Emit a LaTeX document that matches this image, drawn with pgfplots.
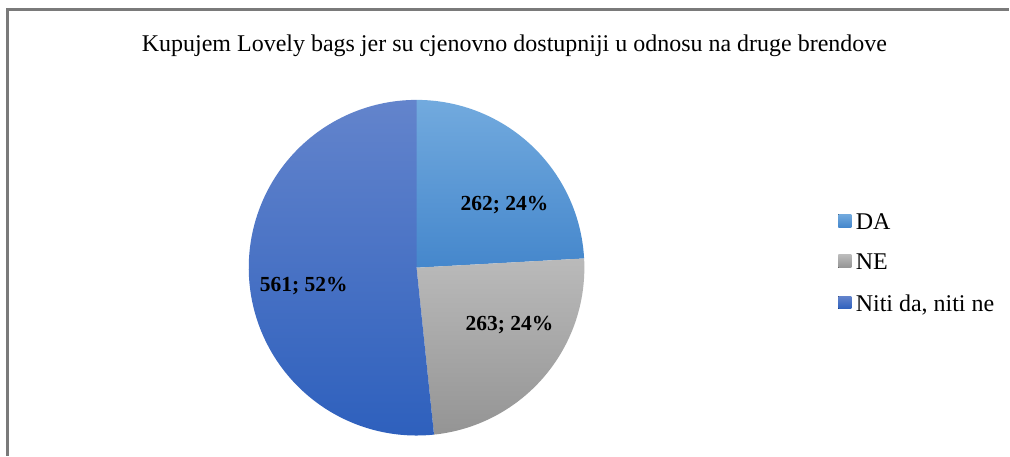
\documentclass[border=0pt]{standalone}
\usepackage{pgfplots}
\usepackage{pgfplotstable}
\usepackage{fontspec}
\setmainfont{Liberation Serif}
\pgfplotsset{compat=1.18}

\definecolor{daTop}{HTML}{72AADE}
\definecolor{daBot}{HTML}{4587CC}
\definecolor{neTop}{HTML}{BABABA}
\definecolor{neBot}{HTML}{949494}
\definecolor{niTop}{HTML}{6384CC}
\definecolor{niBot}{HTML}{2E60BD}
\definecolor{frame}{HTML}{7A7A7A}

% answers
\pgfplotstableread{
label value
DA 262
NE 263
Niti 561
}\piedata

\pgfplotstablegetelem{0}{value}\of\piedata \let\vda\pgfplotsretval
\pgfplotstablegetelem{1}{value}\of\piedata \let\vne\pgfplotsretval
\pgfplotstablegetelem{2}{value}\of\piedata \let\vni\pgfplotsretval
\pgfmathsetmacro\total{\vda+\vne+\vni}
\pgfmathsetmacro\aA{90}
\pgfmathsetmacro\aB{90-360*(\vda/\total)}
\pgfmathsetmacro\aC{\aB-360*(\vne/\total)}
\pgfmathsetmacro\aD{\aC-360*(\vni/\total)}

\def\cx{417}\def\cy{188}\def\rr{168}

\begin{document}
\begin{tikzpicture}
\begin{axis}[
  width=1010pt, height=456pt, scale only axis,
  xmin=0, xmax=1010, ymin=0, ymax=456,
  axis lines=none, ticks=none, clip=false,
  legend cell align=left,
  legend style={draw=none, fill=none, at={(axis cs:836,246)}, anchor=north west,
    font=\fontsize{24}{28}\selectfont, row sep=20.5pt,
    nodes={inner sep=1.5pt}},
  legend image code/.code={\fill[#1] (0pt,-5pt) rectangle (13pt,8pt); \path (16pt,0pt);},
]
  \fill[white] (axis cs:0,0) rectangle (axis cs:1010,456);
  \draw[frame, line width=2.2pt] (axis cs:7.5,0) -- (axis cs:7.5,446.5) -- (axis cs:1010,446.5);

  \addplot[draw=none, top color=daTop, bottom color=daBot, domain=\aB:\aA, samples=80]
    ({\cx+\rr*cos(x)}, {\cy+\rr*sin(x)}) -- (axis cs:\cx,\cy) -- cycle;
  \addlegendentry{DA}
  \addplot[draw=none, top color=neTop, bottom color=neBot, domain=\aC:\aB, samples=80]
    ({\cx+\rr*cos(x)}, {\cy+\rr*sin(x)}) -- (axis cs:\cx,\cy) -- cycle;
  \addlegendentry{NE}
  \addplot[draw=none, top color=niTop, bottom color=niBot, domain=\aD:\aC, samples=120]
    ({\cx+\rr*cos(x)}, {\cy+\rr*sin(x)}) -- (axis cs:\cx,\cy) -- cycle;
  \addlegendentry{Niti da, niti ne}

  \node[anchor=base, font=\fontsize{24}{28}\selectfont] at (axis cs:515,404)
    {Kupujem Lovely bags jer su cjenovno dostupniji u odnosu na druge brendove};
  \node[font=\fontsize{21.5}{25}\selectfont\bfseries] at (axis cs:505,251) {262; 24\%};
  \node[font=\fontsize{21.5}{25}\selectfont\bfseries] at (axis cs:510,131) {263; 24\%};
  \node[font=\fontsize{21.5}{25}\selectfont\bfseries] at (axis cs:304,170) {561; 52\%};
\end{axis}
\end{tikzpicture}
\end{document}
